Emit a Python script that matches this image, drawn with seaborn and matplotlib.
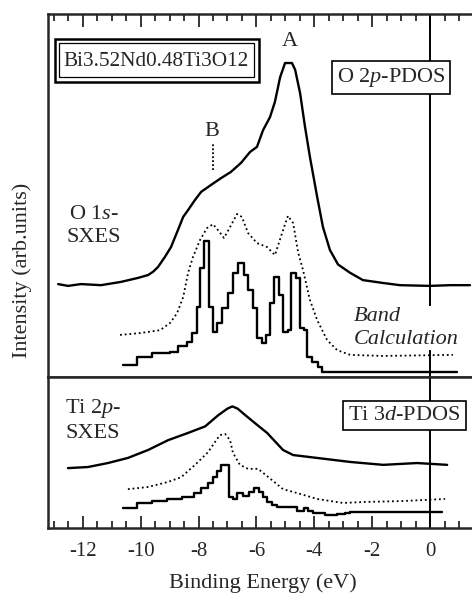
import matplotlib
matplotlib.use("Agg")
import matplotlib.pyplot as plt
import seaborn as sns
import pandas as pd
from matplotlib.patches import Rectangle
from matplotlib.ticker import MultipleLocator

# ---------------- data ----------------
# O 1s SXES (measured, upper panel)
o_sxes_e = [-12.85, -12.51, -12.06, -11.37, -10.68, -10.09, -9.74, -9.57, -9.40, -9.16, -8.95,
            -8.71, -8.53, -8.36, -8.12, -7.91, -7.57, -7.22, -6.88, -6.53, -6.22,
            -5.98, -5.77, -5.53, -5.36, -5.18, -5.01, -4.77, -4.66, -4.49, -4.32,
            -4.15, -3.90, -3.70, -3.46, -3.18, -2.76, -2.32, -1.62, -1.04, 0.00, 0.69, 1.38]
o_sxes_i = [2.56, 2.51, 2.56, 2.53, 2.62, 2.73, 2.81, 2.90, 3.03, 3.31, 3.58,
            4.05, 4.41, 4.60, 4.88, 5.10, 5.29, 5.48, 5.65, 5.90, 6.20,
            6.34, 6.80, 7.16, 7.58, 8.26, 8.65, 8.65, 8.46, 7.82, 6.89,
            6.06, 4.96, 4.13, 3.50, 3.10, 2.87, 2.67, 2.59, 2.53, 2.51, 2.53, 2.53]

# O 2p PDOS, broadened band calculation (dotted)
o_calc_e = [-10.71, -10.02, -9.33, -8.98, -8.74, -8.53, -8.36, -8.19, -7.95, -7.71,
            -7.50, -7.33, -7.12, -6.91, -6.67, -6.50, -6.29, -5.98, -5.63, -5.36,
            -5.11, -4.91, -4.73, -4.56, -4.39, -4.15, -3.90, -3.56, -3.21, -2.76, -1.62, 0.79]
o_calc_i = [1.16, 1.21, 1.29, 1.49, 1.76, 2.20, 2.87, 3.31, 3.77, 4.10,
            4.21, 4.05, 3.83, 4.13, 4.49, 4.41, 3.97, 3.69, 3.58, 3.36,
            3.97, 4.44, 4.24, 3.44, 2.95, 2.12, 1.57, 1.02, 0.74, 0.61, 0.58, 0.61]

# O 2p PDOS histogram (bin left edges, last value = end of last bin)
o_pdos_e = [-10.61, -10.12, -9.61, -8.98, -8.71, -8.40, -8.22, -8.05, -7.95, -7.81,
            -7.64, -7.50, -7.36, -7.19, -6.98, -6.81, -6.63, -6.43, -6.29, -6.12,
            -5.98, -5.81, -5.67, -5.53, -5.39, -5.22, -5.08, -4.91, -4.80, -4.63,
            -4.49, -4.35, -4.25, -4.08, -3.87, -3.73, 0.93]
o_pdos_i = [0.33, 0.55, 0.66, 0.69, 0.85, 0.96, 1.21, 1.93, 3.00, 3.75,
            1.93, 1.24, 1.49, 1.90, 2.31, 2.87, 3.14, 2.81, 2.40, 1.90,
            1.07, 0.94, 1.16, 2.04, 2.75, 2.26, 1.24, 1.29, 2.87, 2.73,
            1.35, 1.29, 0.55, 0.41, 0.28, 0.14, 0.14]

# Ti 2p SXES (measured, lower panel)
ti_sxes_e = [-12.51, -11.82, -11.13, -10.44, -9.74, -9.05, -8.36, -7.77, -7.33, -7.00,
             -6.83, -6.65, -6.40, -6.05, -5.63, -5.08, -4.73, -3.90, -2.76, -1.62, -0.45, 0.59]
ti_sxes_i = [1.65, 1.68, 1.79, 1.93, 2.15, 2.42, 2.62, 2.80, 3.10, 3.29,
             3.35, 3.29, 3.12, 2.89, 2.62, 2.15, 2.01, 1.93, 1.82, 1.74, 1.79, 1.74]

# Ti 3d PDOS, broadened band calculation (dotted)
ti_calc_e = [-10.44, -9.74, -9.05, -8.60, -8.12, -7.67, -7.43, -7.26, -7.08, -6.91,
             -6.81, -6.57, -6.29, -5.94, -5.63, -5.08, -4.49, -3.90, -3.01, -2.18, -1.04, 0.52]
ti_calc_i = [1.07, 1.13, 1.27, 1.40, 1.74, 2.09, 2.37, 2.56, 2.59, 2.42,
             2.07, 1.74, 1.63, 1.63, 1.43, 1.07, 0.94, 0.80, 0.69, 0.72, 0.74, 0.80]

# Ti 3d PDOS histogram
ti_pdos_e = [-10.61, -10.12, -9.61, -9.09, -8.57, -8.15, -7.91, -7.67, -7.50, -7.36,
             -7.22, -6.95, -6.81, -6.67, -6.46, -6.25, -6.08, -5.91, -5.77, -5.63,
             -5.46, -5.29, -4.60, -4.35, -4.22, -4.04, -3.63, -3.21, -2.94, -2.76, 0.41]
ti_pdos_i = [0.55, 0.69, 0.74, 0.80, 0.85, 0.96, 1.10, 1.24, 1.40, 1.57,
             1.74, 0.85, 0.80, 0.96, 0.88, 0.99, 1.10, 0.99, 0.85, 0.72,
             0.63, 0.58, 0.47, 0.55, 0.47, 0.41, 0.36, 0.39, 0.41, 0.44, 0.44]

x_ticks = [-12, -10, -8, -6, -4, -2, 0]

# ---------------- style ----------------
sns.set_style("ticks")
plt.rcParams["font.family"] = ["Liberation Serif", "DejaVu Serif"]
plt.rcParams["mathtext.fontset"] = "custom"
plt.rcParams["mathtext.rm"] = "Liberation Serif"
plt.rcParams["mathtext.it"] = "Liberation Serif:italic"
plt.rcParams["axes.unicode_minus"] = False

FS = 16
LW = 1.7
DOT = (0, (1.0, 1.6))

fig = plt.figure(figsize=(4.72, 5.94), dpi=100)
ax1 = fig.add_axes([0.1017, 0.3653, 0.91, 0.6111])
ax2 = fig.add_axes([0.1017, 0.1111, 0.91, 0.2542])

XL = (-13.20, 1.64)

# ---------------- upper panel ----------------
sns.lineplot(x=o_sxes_e, y=o_sxes_i, ax=ax1, color="black", lw=LW, estimator=None, sort=False)
sns.lineplot(x=o_calc_e, y=o_calc_i, ax=ax1, color="black", lw=1.3, ls=DOT, estimator=None, sort=False)
sns.lineplot(x=o_pdos_e, y=o_pdos_i, ax=ax1, color="black", lw=LW, drawstyle="steps-post",
             estimator=None, sort=False)
ax1.axvline(0, color="black", lw=1.4, zorder=1)
ax1.set_xlim(*XL)
ax1.set_ylim(0, 10)

# ---------------- lower panel ----------------
sns.lineplot(x=ti_sxes_e, y=ti_sxes_i, ax=ax2, color="black", lw=LW, estimator=None, sort=False)
sns.lineplot(x=ti_calc_e, y=ti_calc_i, ax=ax2, color="black", lw=1.3, ls=DOT, estimator=None, sort=False)
sns.lineplot(x=ti_pdos_e, y=ti_pdos_i, ax=ax2, color="black", lw=LW, drawstyle="steps-post",
             estimator=None, sort=False)
ax2.axvline(0, color="black", lw=1.4, zorder=1)
ax2.set_xlim(*XL)
ax2.set_ylim(0, 4.16)

# ---------------- axes decoration ----------------
for ax in (ax1, ax2):
    ax.set_ylabel("")
    ax.set_yticks([])
    ax.spines["right"].set_visible(False)
    for s in ("left", "top", "bottom"):
        ax.spines[s].set_linewidth(1.8)
    ax.xaxis.set_major_locator(MultipleLocator(2))
    ax.xaxis.set_minor_locator(MultipleLocator(0.5))
    ax.tick_params(axis="x", which="major", direction="in", length=9, width=1.3)
    ax.tick_params(axis="x", which="minor", direction="in", length=5, width=1.3)

ax1.tick_params(axis="x", which="both", top=True, bottom=False, labelbottom=False, labeltop=False)
ax2.tick_params(axis="x", which="both", top=False, bottom=True, labelbottom=True, labelsize=15, pad=10)
ax2.set_xticks(x_ticks)
ax2.set_xticklabels([str(t) for t in x_ticks])
ax2.set_xlabel("Binding Energy (eV)", fontsize=FS, labelpad=9)

fig.text(0.047, 0.544, "Intensity (arb.units)", rotation=90, ha="center", va="center", fontsize=FS)

# ---------------- annotations ----------------
# formula box with double frame
ax1.add_patch(Rectangle((0.0165, 0.8127), 0.4741, 0.1184, transform=ax1.transAxes,
                        fill=False, lw=1.8, ec="black", zorder=5))
ax1.add_patch(Rectangle((0.0259, 0.8264), 0.4529, 0.0937, transform=ax1.transAxes,
                        fill=False, lw=0.9, ec="black", zorder=5))
ax1.text(0.2524, 0.8705, "Bi3.52Nd0.48Ti3O12", transform=ax1.transAxes, ha="center",
         va="center", fontsize=15.3)

box = dict(boxstyle="square,pad=0.22", fc="white", ec="black", lw=1.2)
ax1.text(-1.35, 8.25, "O 2$p$-PDOS", ha="center", va="center", fontsize=FS, bbox=box, zorder=6)
ax1.text(-4.84, 9.23, "A", ha="center", va="center", fontsize=FS)
ax1.text(-7.53, 6.75, "B", ha="center", va="center", fontsize=FS)
ax1.plot([-7.50, -7.50], [5.70, 6.45], color="black", lw=1.3, ls=(0, (1.0, 1.2)))
ax1.text(-11.61, 4.16, "O 1$s$-\nSXES", ha="center", va="center", fontsize=FS,
         multialignment="center", linespacing=1.3)
ax1.text(-2.63, 1.35, "Band\nCalculation", ha="left", va="center", fontsize=FS, style="italic",
         linespacing=1.3, zorder=6,
         bbox=dict(boxstyle="square,pad=0.05", fc="white", ec="none"))

ax2.text(-0.88, 3.11, "Ti 3$d$-PDOS", ha="center", va="center", fontsize=FS, bbox=box, zorder=6)
ax2.text(-11.65, 2.98, "Ti 2$p$-\nSXES", ha="center", va="center", fontsize=FS,
         multialignment="center", linespacing=1.3)

fig.savefig("out.png", dpi=100)
